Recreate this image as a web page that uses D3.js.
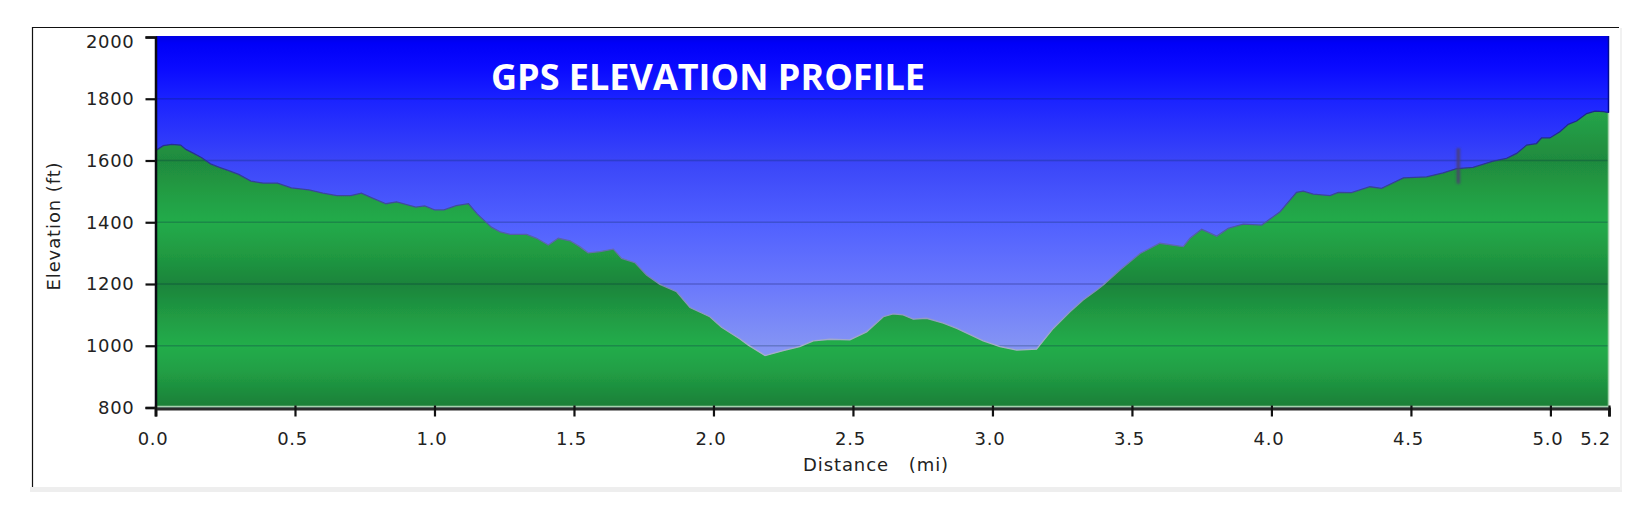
<!DOCTYPE html>
<html>
<head>
<meta charset="utf-8">
<script src="https://d3js.org/d3.v7.min.js"></script>
<style>
    html, body { margin: 0; padding: 0; background: #fff; }
    svg { display: block; }
    .tick-label { font-family: "DejaVu Sans", sans-serif; font-size: 18px; letter-spacing: 0.7px; fill: #222; }
    .axis-title { font-family: "DejaVu Sans", sans-serif; font-size: 18px; letter-spacing: 0.9px; fill: #222; }
    .chart-title { font-family: "Open Sans", sans-serif; font-size: 36px; font-weight: 700; fill: #fff; }
</style>
</head>
<body>
<div id="chart"></div>
<script>
// values
const distanceMi = [0, 0.028, 0.059, 0.09, 0.109, 0.135, 0.166, 0.197, 0.229, 0.26, 0.298, 0.342, 0.386, 0.437, 0.487, 0.55, 0.6, 0.65, 0.7, 0.738, 0.776, 0.826, 0.864, 0.933, 0.965, 1.0, 1.034, 1.078, 1.122, 1.153, 1.204, 1.235, 1.271, 1.33, 1.366, 1.408, 1.444, 1.486, 1.521, 1.551, 1.593, 1.641, 1.671, 1.719, 1.76, 1.808, 1.868, 1.916, 1.987, 2.029, 2.095, 2.125, 2.185, 2.25, 2.309, 2.358, 2.418, 2.489, 2.549, 2.609, 2.644, 2.68, 2.716, 2.764, 2.824, 2.872, 2.967, 3.027, 3.087, 3.158, 3.218, 3.278, 3.325, 3.373, 3.397, 3.457, 3.529, 3.6, 3.684, 3.708, 3.75, 3.804, 3.845, 3.899, 3.965, 4.031, 4.09, 4.114, 4.15, 4.21, 4.24, 4.287, 4.353, 4.395, 4.473, 4.556, 4.616, 4.664, 4.723, 4.795, 4.843, 4.879, 4.915, 4.95, 4.968, 4.998, 5.034, 5.064, 5.094, 5.13, 5.16, 5.19, 5.21];
const elevationFt = [1632, 1648, 1652, 1650, 1636, 1624, 1609, 1589, 1578, 1568, 1555, 1533, 1527, 1527, 1511, 1505, 1494, 1486, 1486, 1494, 1479, 1460, 1466, 1449, 1453, 1440, 1440, 1454, 1460, 1427, 1384, 1369, 1361, 1361, 1348, 1326, 1348, 1340, 1321, 1301, 1305, 1313, 1283, 1269, 1229, 1199, 1175, 1124, 1094, 1060, 1022, 1002, 968, 984, 997, 1016, 1021, 1019, 1045, 1094, 1103, 1100, 1086, 1089, 1073, 1056, 1016, 997, 986, 989, 1056, 1110, 1148, 1180, 1197, 1245, 1299, 1332, 1321, 1348, 1377, 1355, 1380, 1394, 1391, 1434, 1497, 1501, 1491, 1486, 1497, 1496, 1515, 1510, 1544, 1547, 1560, 1574, 1578, 1598, 1607, 1623, 1650, 1655, 1673, 1673, 1693, 1717, 1728, 1752, 1760, 1758, 1755];
const spikeDistance = [4.67, 4.67];
const spikeElevation = [1640, 1525];
const yTicks = [800, 1000, 1200, 1400, 1600, 1800, 2000];
const xTicks = [0, 0.5, 1, 1.5, 2, 2.5, 3, 3.5, 4, 4.5, 5, 5.21];
const xTickLabels = ["0.0", "0.5", "1.0", "1.5", "2.0", "2.5", "3.0", "3.5", "4.0", "4.5", "5.0", "5.2"];
const titleText = "GPS ELEVATION PROFILE";
const xTitle = "Distance\u00a0\u00a0\u00a0(mi)";
const yTitle = "Elevation (ft)";

const profile = distanceMi.map((d, i) => ({ d: d, e: elevationFt[i] }));

const width = 1650, height = 515;
const plot = { left: 155.5, right: 1609, top: 37, bottom: 407.5 };

const svg = d3.select("#chart").append("svg")
    .attr("width", width)
    .attr("height", height);

const x = d3.scaleLinear().domain([0, 5.21]).range([plot.left, plot.right]);
const y = d3.scaleLinear().domain([800, 2000]).range([plot.bottom, plot.top]);

// gradients run along the elevation scale
const defs = svg.append("defs");
function addGradient(id, stops) {
    defs.append("linearGradient")
        .attr("id", id)
        .attr("gradientUnits", "userSpaceOnUse")
        .attr("x1", 0).attr("x2", 0)
        .attr("y1", y(2000)).attr("y2", y(800))
        .selectAll("stop")
        .data(stops)
        .enter()
        .append("stop")
        .attr("offset", d => `${100 * (2000 - d[0]) / 1200}%`)
        .attr("stop-color", d => d[1]);
}
addGradient("sky", [[2000, "#0000e6"], [1980, "#0000f8"], [1900, "#0a0aff"], [1800, "#1a22ff"], [1600, "#3a45f8"], [1400, "#5060ff"], [1200, "#6a78fc"], [1000, "#8494f4"], [800, "#8f9ff4"]]);
addGradient("land", [[1800, "#25a348"], [1750, "#25a348"], [1600, "#1f8a3e"], [1500, "#219c43"], [1400, "#22ab4a"], [1300, "#209a42"], [1200, "#1c843b"], [1100, "#209a43"], [1000, "#23ad4b"], [920, "#219f45"], [860, "#1e8f3e"], [800, "#1b7e37"]]);
addGradient("edge", [[2000, "#0a1080"], [1600, "#2a3490"], [1400, "#4a55a0"], [1200, "#7d88b8"], [1000, "#a5aec8"], [800, "#a5aec8"]]);

// the reference is a soft jpeg, so the plot gets a slight blur
function addBlur(id, amount) {
    defs.append("filter").attr("id", id)
        .attr("filterUnits", "userSpaceOnUse")
        .attr("x", 0).attr("y", 0).attr("width", width).attr("height", height)
        .append("feGaussianBlur").attr("stdDeviation", amount);
}
addBlur("soft", 0.6);
addBlur("softer", 0.9);

// frame around the chart
svg.append("rect").attr("x", 30).attr("y", 487).attr("width", 1592).attr("height", 5).attr("fill", "#eeeeee");
svg.append("rect").attr("x", 1620).attr("y", 28).attr("width", 2).attr("height", 462).attr("fill", "#f1f1f1");
svg.append("path").attr("d", "M32.5,487V27.5H1619").attr("fill", "none").attr("stroke", "#111").attr("stroke-width", 1.2);

// background and profile
svg.append("rect")
    .attr("x", plot.left).attr("y", plot.top - 1)
    .attr("width", plot.right - plot.left).attr("height", plot.bottom - plot.top + 1)
    .attr("fill", "url(#sky)");

const area = d3.area()
    .x(d => x(d.d))
    .y0(y(800))
    .y1(d => y(d.e));
const line = d3.line()
    .x(d => x(d.d))
    .y(d => y(d.e));

const terrain = svg.append("g").attr("filter", "url(#soft)");
terrain.append("path").datum(profile).attr("d", area).attr("fill", "url(#land)");

// grid lines sit over both sky and land
terrain.append("g").selectAll("line")
    .data(yTicks.slice(1, -1))
    .enter()
    .append("line")
    .attr("x1", plot.left).attr("x2", plot.right)
    .attr("y1", d => y(d)).attr("y2", d => y(d))
    .attr("stroke", "#0a1a40").attr("stroke-opacity", 0.24).attr("stroke-width", 1.6);

terrain.append("path").datum(profile).attr("d", line)
    .attr("fill", "none").attr("stroke", "url(#edge)").attr("stroke-width", 1.3);

// the glitch near 4.7 mi
svg.append("path")
    .datum(spikeDistance.map((d, i) => ({ d: d, e: spikeElevation[i] })))
    .attr("d", line)
    .attr("filter", "url(#softer)")
    .attr("fill", "none").attr("stroke", "#4a3f70").attr("stroke-opacity", 0.85).attr("stroke-width", 3.5);

// light seam just inside the axes
svg.append("line").attr("x1", plot.left).attr("x2", plot.right)
    .attr("y1", plot.bottom - 1).attr("y2", plot.bottom - 1)
    .attr("stroke", "#a8d2ae").attr("stroke-width", 1.5);
svg.append("line").attr("x1", plot.right - 0.5).attr("x2", plot.right - 0.5)
    .attr("y1", y(1755)).attr("y2", plot.bottom)
    .attr("stroke", "#a8d2ae").attr("stroke-width", 1.5);
svg.append("line").attr("x1", plot.right - 0.5).attr("x2", plot.right - 0.5)
    .attr("y1", plot.top - 1).attr("y2", y(1755))
    .attr("stroke", "#000a90").attr("stroke-width", 1.5);

// axes
const yAxis = d3.axisLeft(y).tickValues(yTicks).tickSize(10).tickPadding(11).tickFormat(d3.format("d"));
const xAxis = d3.axisBottom(x).tickValues(xTicks).tickSize(8).tickPadding(16)
    .tickFormat((d, i) => xTickLabels[i]);

const gy = svg.append("g").attr("transform", `translate(${plot.left},0)`).call(yAxis);
const gx = svg.append("g").attr("transform", `translate(0,${plot.bottom + 1})`).call(xAxis);

gy.select(".domain").attr("stroke", "#0a0a14").attr("stroke-width", 2.5);
gx.select(".domain").attr("stroke", "#2b2b2b").attr("stroke-width", 3);
gy.selectAll(".tick line").attr("stroke", "#111").attr("stroke-width", 2.2);
gx.selectAll(".tick line").attr("stroke", "#111").attr("stroke-width", 2.2).attr("y1", -3);
gy.selectAll("text").attr("class", "tick-label").attr("fill", null)
    .attr("transform", d => d === 2000 ? "translate(0,5)" : null);
gx.selectAll("text").attr("class", "tick-label").attr("fill", null)
    .attr("dx", (d, i) => i === xTicks.length - 1 ? -14 : -3);

// titles
svg.append("text").attr("class", "axis-title")
    .attr("text-anchor", "middle")
    .attr("transform", "translate(60,226) rotate(-90)")
    .text(yTitle);
svg.append("text").attr("class", "axis-title")
    .attr("text-anchor", "middle")
    .attr("x", 876).attr("y", 471)
    .text(xTitle);
svg.append("text").attr("class", "chart-title")
    .attr("x", 491).attr("y", 90)
    .text(titleText);
</script>
</body>
</html>
